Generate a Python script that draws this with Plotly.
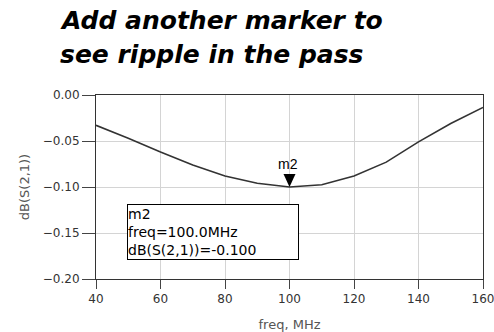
import plotly.graph_objects as go

# ---- data ----
freq_mhz = [40, 50, 60, 70, 80, 90, 100, 110, 120, 130, 140, 150, 160]
s21_db = [-0.033, -0.047, -0.062, -0.076, -0.088, -0.096, -0.100,
          -0.0975, -0.088, -0.073, -0.051, -0.031, -0.0135]

marker_name = "m2"
marker_freq = 100.0
marker_db = -0.100

x_ticks = [40, 60, 80, 100, 120, 140, 160]
y_ticks = [0.00, -0.05, -0.10, -0.15, -0.20]

title_lines = ["Add another marker to", "see ripple in the pass"]
x_title = "freq, MHz"
y_title = "dB(S(2,1))"

FONT = "DejaVu Sans, Arial, sans-serif"

fig = go.Figure()
fig.add_trace(go.Scatter(
    x=freq_mhz, y=s21_db, mode="lines",
    line=dict(color="#333333", width=1.6),
    showlegend=False, hoverinfo="skip"))

# marker triangle (tip at data point)
fig.add_shape(type="path", xref="x", yref="y",
              xsizemode="pixel", ysizemode="pixel",
              xanchor=marker_freq, yanchor=marker_db,
              path="M -6,13 L 6,13 L 0,0 Z",
              fillcolor="black", line=dict(width=0))
fig.add_annotation(x=marker_freq, y=marker_db, xref="x", yref="y",
                   text=marker_name, showarrow=False, yanchor="bottom",
                   yshift=13, xshift=-2,
                   font=dict(family="Liberation Sans, Arial", size=14, color="black"))

# readout box
fig.add_annotation(
    xref="paper", yref="paper", x=0.0801, y=0.4076,
    xanchor="left", yanchor="top",
    text=f"{marker_name}<br>freq={marker_freq:.1f}MHz<br>dB(S(2,1))={marker_db:.3f}",
    showarrow=False, align="left", valign="middle",
    width=170, height=54, borderwidth=1, borderpad=0, bordercolor="black",
    bgcolor="white",
    font=dict(family=FONT, size=14, color="black"))

# title lines
for i, (line, ypos) in enumerate(zip(title_lines, [1.405, 1.218])):
    fig.add_annotation(
        xref="paper", yref="paper", x=-0.098, y=ypos,
        xanchor="left", yanchor="middle", showarrow=False, text=f"<b><i>{line}</i></b>",
        font=dict(family=FONT, size=25, color="black"))

axis_common = dict(
    showline=True, mirror=True, linecolor="#333333", linewidth=1,
    showgrid=True, gridcolor="#d4d4d4", gridwidth=1,
    ticks="outside", tickcolor="#444444", tickwidth=1,
    zeroline=False,
    tickfont=dict(family=FONT, size=12, color="#333333"),
)

fig.update_xaxes(range=[40, 160], tickvals=x_ticks, ticklen=9,
                 ticklabeloverflow="allow",
                 title=dict(text=x_title, standoff=14,
                            font=dict(family=FONT, size=13, color="#555555")),
                 **axis_common)
fig.update_yaxes(range=[-0.20, 0.0], tickvals=y_ticks, tickformat=".2f", ticklen=13,
                 title=dict(text=y_title, standoff=10,
                            font=dict(family=FONT, size=13, color="#555555")),
                 **axis_common)

fig.update_layout(
    width=494, height=332,
    margin=dict(l=96, r=11, t=95, b=53, autoexpand=False),
    paper_bgcolor="white", plot_bgcolor="white",
    showlegend=False,
)

fig.write_html("out.html")
